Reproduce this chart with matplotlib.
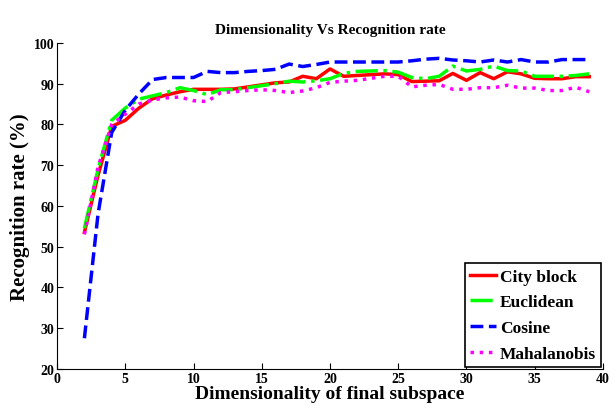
import numpy as np
import matplotlib
matplotlib.use("Agg")
import matplotlib.pyplot as plt

plt.rcParams['font.family'] = ['Liberation Serif', 'DejaVu Serif']
plt.rcParams['font.weight'] = 'bold'

dims = list(range(2, 40))

city_block = [53.5, 67.5, 79.5, 81, 84, 86.3, 87.2, 88, 88.6, 88.6, 88.6, 88.7, 89.2, 89.7,
              90.2, 90.4, 91.8, 91.2, 93.6, 91.8, 92, 92.2, 92.4, 92.2, 90.5, 90.6, 90.7,
              92.5, 90.8, 92.7, 91.2, 92.9, 92.4, 91.3, 91.2, 91.2, 91.7, 91.7]
euclidean = [54.5, 69, 81, 84, 86.2, 87, 87.8, 89, 88.3, 87.3, 88.5, 88.5, 89, 89.5,
             90, 90.6, 90.4, 90.7, 91.2, 92.5, 93, 93.1, 93.2, 92.8, 91.5, 91.2, 91.8,
             94.3, 93.1, 93.5, 94.3, 93.2, 93.1, 91.8, 91.8, 91.8, 92, 92.4]
cosine = [27.5, 58, 78, 83.5, 87.5, 91, 91.5, 91.5, 91.5, 93, 92.7, 92.7, 93, 93.2,
          93.5, 94.8, 94.2, 94.7, 95.3, 95.3, 95.3, 95.3, 95.3, 95.3, 95.6, 96, 96.2,
          95.8, 95.6, 95.3, 95.8, 95.3, 95.9, 95.3, 95.3, 95.9, 95.9, 95.9]
mahalanobis = [53, 69.5, 80, 82.5, 85, 86, 86.5, 86.7, 85.8, 85.6, 87.8, 88, 88.3, 88.5,
               88.3, 87.8, 88.2, 89, 90.3, 90.6, 90.8, 91.3, 91.8, 91.8, 89.2, 89.6, 89.8,
               88.6, 88.6, 89, 89, 89.6, 88.9, 88.9, 88.3, 88.3, 89.1, 88]

fig = plt.figure(figsize=(6.14, 4.10), dpi=100)
ax = fig.add_axes([0.093, 0.098, 0.889, 0.795])

ax.plot(dims, city_block, color='red', lw=2.5, ls='-', label='City block')
ax.plot(dims, euclidean, color='#00ff00', lw=2.5, ls='-.', label='Euclidean')
ax.plot(dims, cosine, color='blue', lw=2.5, ls='--', label='Cosine')
ax.plot(dims, mahalanobis, color='magenta', lw=2.5, ls=':', label='Mahalanobis')

ax.set_xlim(0, 40)
ax.set_ylim(20, 100)
ax.set_xticks(range(0, 41, 5))
ax.set_yticks(range(20, 101, 10))
ax.tick_params(direction='in', length=4, labelsize=10, pad=2)
ax.spines['top'].set_visible(False)
ax.spines['right'].set_visible(False)

ax.set_title('Dimensionality Vs Recognition rate', fontsize=11, fontweight='bold', pad=7)
ax.set_xlabel('Dimensionality of final subspace', fontsize=14, fontweight='bold', labelpad=0)
ax.set_ylabel('Recognition rate (%)', fontsize=15, fontweight='bold', labelpad=3)

leg = ax.legend(loc='lower right', fontsize=12.5, handlelength=1.5, handletextpad=0.2,
                borderaxespad=0.1, fancybox=False, framealpha=1, labelspacing=0.55,
                borderpad=0.3)
leg.get_frame().set_edgecolor('black')
leg.get_frame().set_linewidth(1.2)

fig.savefig('out.png', dpi=100)
